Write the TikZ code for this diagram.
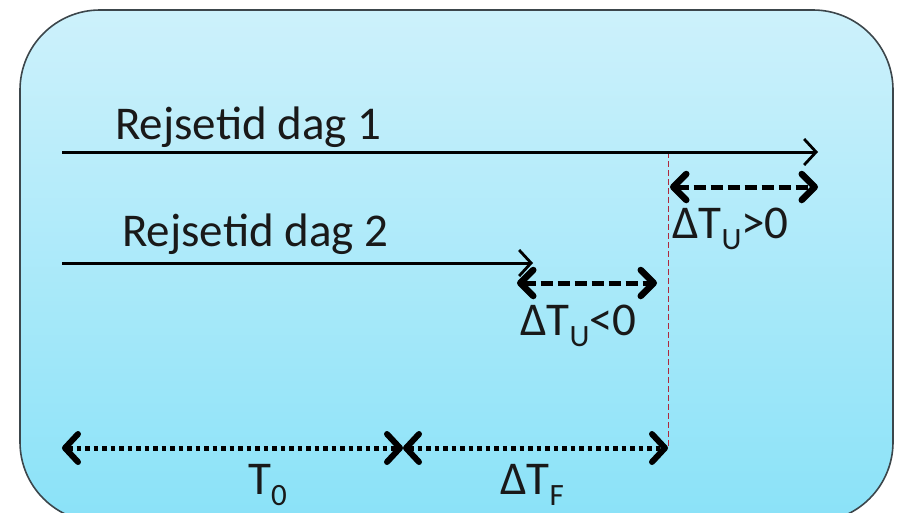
\documentclass[tikz,border=0pt]{standalone}
\usepackage{fontspec}
\setmainfont{Carlito}
\usetikzlibrary{arrows.meta}
\definecolor{topc}{RGB}{205,241,251}
\definecolor{botc}{RGB}{138,226,248}
\definecolor{framec}{RGB}{60,70,75}
\definecolor{redl}{RGB}{175,40,60}
\definecolor{txt}{RGB}{25,25,25}
\newcommand\mysub[1]{\raisebox{-0.25em}{\fontsize{31}{31}\selectfont #1}}
\tikzset{
  lbl/.style={anchor=base west,inner sep=0pt,text=txt,font=\fontsize{47}{52}\selectfont},
  mainarrow/.style={line width=3pt,-{Straight Barb[length=12pt,width=26pt,line width=2.8pt]}},
  bighead/.style={},
  dasharrow/.style={line width=5pt,dash pattern=on 12pt off 5pt,
    {Straight Barb[length=13pt,width=26pt,line width=6.5pt,round]}-{Straight Barb[length=13pt,width=26pt,line width=6.5pt,round]}},
  dotarrow/.style={line width=5pt,dash pattern=on 4.5pt off 4pt,
    {Straight Barb[length=13pt,width=28pt,line width=6pt,round]}-{Straight Barb[length=13pt,width=28pt,line width=6pt,round]}},
  redline/.style={draw=redl,line width=1pt,dash pattern=on 6pt off 3pt}
}
\begin{document}
\begin{tikzpicture}[x=1pt,y=-1pt]
\useasboundingbox (0,0) rectangle (897,512);
\fill[white] (0,0) rectangle (897,512);
\shade[top color=topc,bottom color=botc,draw=framec,line width=1.6pt,rounded corners=80pt]
  (20,10) rectangle (893,522);
% coordinates
\coordinate (a1s) at (62,152);
\coordinate (a1e) at (818,152);
\coordinate (a2s) at (62,263);
\coordinate (a2e) at (533,263);
\coordinate (rtop) at (668,152);
\coordinate (rbot) at (668,448);
\coordinate (up1) at (670,187);
\coordinate (up2) at (818,187);
\coordinate (lo1) at (517,283);
\coordinate (lo2) at (657,283);
\coordinate (d1) at (62,448);
\coordinate (d2) at (403,448);
\coordinate (d3) at (668,448);
% lines
\draw[redline] (rtop) -- (rbot);
\draw[mainarrow] (a1s) -- (a1e);
\draw[mainarrow] (a2s) -- (a2e);
\draw[dasharrow] (up1) -- (up2);
\draw[dasharrow] (lo1) -- (lo2);
\draw[dotarrow] (d1) -- (d2);
\draw[dotarrow] (d2) -- (d3);
% labels
\node[lbl] (t1) at (115,139) {Rejsetid dag 1};
\node[lbl] (t2) at (122,246) {Rejsetid dag 2};
\node[lbl] (tup) at (672,238) {ΔT\mysub{U}>0};
\node[lbl] (tlo) at (520,335) {ΔT\mysub{U}<0};
\node[lbl] (t0) at (248,494) {T\mysub{0}};
\node[lbl] (tf) at (500,494) {ΔT\mysub{F}};
\end{tikzpicture}
\end{document}
